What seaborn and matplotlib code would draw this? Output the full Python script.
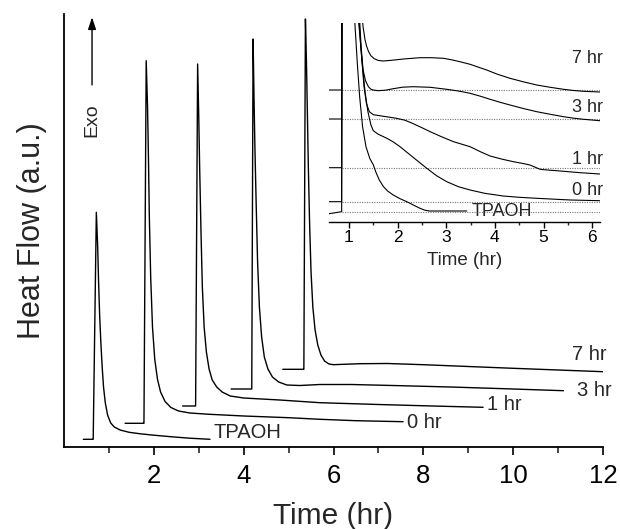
import numpy as np
import pandas as pd
import matplotlib
matplotlib.use("Agg")
import matplotlib.pyplot as plt
import seaborn as sns

# ---------------- data (main panel) ----------------
series = ["TPAOH", "0 hr", "1 hr", "3 hr", "7 hr"]

tpaoh_t = [0.43, 0.64, 0.65, 0.72, 0.75, 0.77, 0.795, 0.82, 0.85, 0.88, 0.92, 0.97, 1.04, 1.12,
           1.25, 1.45, 1.70, 2.00, 2.40, 2.80, 3.25]
tpaoh_y = [7.7, 7.7, 7.7, 234.7, 200, 165, 130, 105, 80, 60, 44, 32, 24, 20,
           17, 14.7, 13.2, 11.8, 10.2, 8.8, 7.7]

h0_t = [1.36, 1.77, 1.78, 1.83, 1.86, 1.88, 1.90, 1.93, 1.97, 2.02, 2.08, 2.15, 2.25, 2.38,
        2.55, 2.80, 3.20, 4.00, 5.00, 5.70, 6.50, 7.55]
h0_y = [23.7, 23.7, 23.7, 386.3, 340, 290, 230, 170, 120, 88, 68, 55, 45.5, 39.5,
        36, 34, 32.8, 31, 29.3, 27.7, 26.3, 25.3]

h1_t = [2.64, 2.92, 2.93, 2.975, 3.00, 3.02, 3.05, 3.08, 3.12, 3.17, 3.23, 3.30, 3.40, 3.52,
        3.70, 4.00, 4.80, 5.70, 7.00, 8.20, 9.33]
h1_y = [41, 41, 41, 383, 330, 280, 215, 160, 120, 95, 78, 67, 60, 55,
        51, 49, 47, 44.3, 42.5, 41, 39.7]

h3_t = [3.72, 4.16, 4.18, 4.21, 4.23, 4.25, 4.28, 4.31, 4.35, 4.40, 4.46, 4.54, 4.64, 4.78,
        4.96, 5.25, 5.70, 6.40, 7.50, 8.60, 9.80, 11.12]
h3_y = [58, 58, 58, 408, 350, 300, 240, 185, 140, 110, 90, 78, 70, 65,
        62, 61.5, 62.5, 62.5, 61.3, 60, 58.3, 56.3]

h7_t = [4.87, 5.33, 5.34, 5.375, 5.40, 5.42, 5.44, 5.47, 5.50, 5.54, 5.59, 5.65, 5.72, 5.80,
        5.90, 6.00, 6.10, 6.60, 7.20, 8.00, 9.00, 10.00, 11.00, 12.00]
h7_y = [77.7, 77.7, 77.7, 428, 380, 330, 280, 220, 175, 140, 117, 102, 92, 86,
        83, 82.3, 82.5, 83.3, 83.5, 82.3, 80.5, 78.7, 77, 75.3]

# ---------------- data (inset) ----------------
in_tpaoh_t = [0.59, 0.85, 0.86, 1.05, 1.12, 1.17, 1.22, 1.28, 1.35, 1.43, 1.50, 1.55, 1.62, 1.71,
              1.80, 1.91, 2.05, 2.19, 2.33, 2.46, 2.56, 2.65, 3.42]
in_tpaoh_y = [8, 10, 420, 260, 200, 160, 125, 95, 75, 63, 57, 50, 42, 35,
              30.5, 26.7, 23, 20, 16.5, 13.4, 11.5, 10.7, 10.7]

in_h0_t = [0.59, 0.85, 0.86, 1.10, 1.20, 1.27, 1.33, 1.39, 1.45, 1.50, 1.60, 1.78, 1.92, 2.05, 2.26,
           2.43, 2.60, 2.80, 3.01, 3.25, 3.49, 3.80, 4.17, 4.50, 4.86, 5.55, 6.16]
in_h0_y = [20, 20, 420, 250, 200, 160, 130, 110, 97, 91, 87.5, 83.4, 79.5, 75, 66.7,
           60, 53.4, 46, 40, 35, 31.7, 28.3, 25.7, 24.4, 23.4, 21.7, 21]

in_h1_t = [0.59, 0.85, 0.86, 1.12, 1.20, 1.26, 1.31, 1.36, 1.42, 1.50, 1.67, 1.98, 2.15, 2.30, 2.50,
           2.67, 2.90, 3.15, 3.49, 3.70, 3.90, 4.15, 4.38, 4.60, 4.72, 4.85, 4.93, 5.10, 5.27, 5.75, 6.16]
in_h1_y = [54, 54, 420, 250, 205, 165, 135, 118, 110, 107, 105.7, 103.4, 101.5, 98.5, 94,
           90, 85, 80, 75, 70, 65.7, 62.5, 60, 58, 56.7, 54, 52.4, 51.6, 51, 49, 47.7]

in_h3_t = [0.59, 0.85, 0.86, 1.15, 1.21, 1.25, 1.29, 1.34, 1.40, 1.45, 1.50, 1.60, 1.75, 1.91, 2.10,
           2.32, 2.67, 3.01, 3.25, 3.49, 3.70, 3.90, 4.10, 4.31, 4.60, 4.86, 5.15, 5.41, 5.62, 5.82, 6.16]
in_h3_y = [102.7, 102.7, 420, 250, 210, 175, 152, 141, 135, 132.5, 131.7, 131, 131.5, 133, 134.5,
           135, 134.4, 132.4, 130.7, 128.4, 125.5, 122.4, 119.5, 116.7, 113, 110, 107.3, 105, 103.5, 102.4, 101]

in_h7_t = [0.59, 0.85, 0.86, 1.20, 1.25, 1.29, 1.33, 1.36, 1.40, 1.45, 1.52, 1.60, 1.70, 1.78, 1.95,
           2.12, 2.46, 2.70, 2.94, 3.10, 3.28, 3.49, 3.65, 3.83, 4.05, 4.31, 4.60, 4.86, 5.15, 5.41,
           5.62, 5.82, 6.16]
in_h7_y = [131.7, 131.7, 420, 250, 215, 195, 182, 176, 170.5, 166, 163, 161.3, 160.7, 161, 161.8,
           162.7, 164, 164, 163.4, 162, 160, 157.4, 154.7, 151.7, 147.5, 143.4, 139.7, 136.7, 134.3, 132.4,
           131.2, 130.4, 129.7]

inset_baselines = [10, 20, 54, 102.7, 131.7]

main_labels = ["TPAOH", "0 hr", "1 hr", "3 hr", "7 hr"]
main_label_t = [3.32, 7.64, 9.42, 11.42, 11.31]
main_label_y = [14, 24, 42, 57, 92]

inset_label_t = [3.52, 5.58, 5.58, 5.58, 5.58]
inset_label_y = [9.7, 31, 61.7, 114, 163.4]

main_xticks = [2, 4, 6, 8, 10, 12]
main_xminor = [1, 3, 5, 7, 9, 11]
inset_xticks = [1, 2, 3, 4, 5, 6]
inset_xminor = [1.5, 2.5, 3.5, 4.5, 5.5]

# ---------------- build frames ----------------
def frame(ts, ys):
    rows = []
    for name, t, y in zip(series, ts, ys):
        for a, b in zip(t, y):
            rows.append((name, a, b))
    return pd.DataFrame(rows, columns=["series", "t", "y"])

df_main = frame([tpaoh_t, h0_t, h1_t, h3_t, h7_t], [tpaoh_y, h0_y, h1_y, h3_y, h7_y])
df_in = frame([in_tpaoh_t, in_h0_t, in_h1_t, in_h3_t, in_h7_t],
              [in_tpaoh_y, in_h0_y, in_h1_y, in_h3_y, in_h7_y])

sns.set_theme(style="ticks")
plt.rcParams["font.family"] = ["Liberation Sans", "DejaVu Sans"]

fig = plt.figure(figsize=(6.2, 5.29), dpi=100)
ax = fig.add_axes([64 / 620, 82 / 529, 539 / 620, 433 / 529])

pal = {s: "black" for s in series}
sns.lineplot(data=df_main, x="t", y="y", hue="series", palette=pal, sort=False,
             estimator=None, legend=False, lw=1.0, ax=ax)
ax.set_xlim(0, 12)
ax.set_ylim(0, 433)
ax.set_xticks(main_xticks)
ax.set_xticks(main_xminor, minor=True)
ax.set_yticks([])
for s in ["top", "right"]:
    ax.spines[s].set_visible(False)
for s in ["left", "bottom"]:
    ax.spines[s].set_linewidth(1.3)
    ax.spines[s].set_color("black")
ax.tick_params(axis="x", which="major", direction="out", length=6, width=1.2,
               labelsize=18.5, pad=6, colors="black")
ax.tick_params(axis="x", which="minor", direction="out", length=4, width=1.2)
ax.set_xlabel("Time (hr)", fontsize=21.5, labelpad=10)
ax.set_ylabel("Heat Flow (a.u.)", fontsize=22, labelpad=12)

for lab, t, y in zip(main_labels, main_label_t, main_label_y):
    ax.text(t, y, lab, fontsize=14.5, ha="left", va="center")

ax.annotate("", xy=(0.052, 0.999), xytext=(0.052, 0.83), xycoords="axes fraction",
            arrowprops=dict(arrowstyle="-|>,head_length=0.6,head_width=0.2", color="black", lw=1.0))
ax.text(0.052, 0.755, "Exo", rotation=90, transform=ax.transAxes,
        ha="center", va="center", fontsize=14)

# ---------------- inset ----------------
axin = fig.add_axes([329 / 620, (529 - 221.7) / 529, 271 / 620, 198.7 / 529])
axin.set_facecolor("none")
axin.hlines(inset_baselines, 0.85, 6.16, colors="#777777", linestyles=(0, (1, 1.2)), lw=0.8)
sns.lineplot(data=df_in, x="t", y="y", hue="series", palette=pal, sort=False,
             estimator=None, legend=False, lw=0.8, ax=axin)
axin.set_xlim(0.59, 6.16)
axin.set_ylim(0, 198.7)
axin.set_xticks(inset_xticks)
axin.set_xticks(inset_xminor, minor=True)
axin.set_yticks([])
for s in ["top", "right", "left"]:
    axin.spines[s].set_visible(False)
axin.spines["bottom"].set_linewidth(1.0)
axin.spines["bottom"].set_color("black")
axin.tick_params(axis="x", which="major", direction="out", length=4, width=1.0,
                 labelsize=12.5, pad=2, colors="black")
axin.tick_params(axis="x", which="minor", direction="out", length=2.5, width=1.0)
axin.set_xlabel("Time (hr)", fontsize=13.5, labelpad=5)
axin.set_ylabel("")
for lab, t, y in zip(main_labels, inset_label_t, inset_label_y):
    axin.text(t, y, lab, fontsize=13, ha="left", va="center")

fig.savefig("out.png", dpi=100)
